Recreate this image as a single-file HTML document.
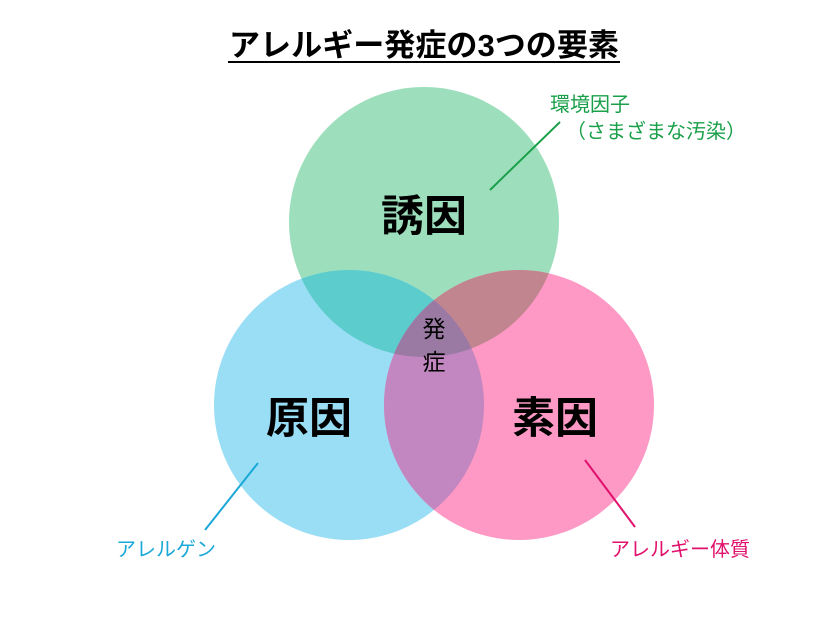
<!DOCTYPE html>
<html><head><meta charset="utf-8"><style>
body{margin:0;background:#fff;width:840px;height:639px;overflow:hidden}
svg text{font-family:"Liberation Sans","Noto Sans CJK JP",sans-serif}
</style></head><body>
<svg width="840" height="639" viewBox="0 0 840 639">
<defs>
<clipPath id="cg"><circle cx="424" cy="222" r="135"/></clipPath>
<clipPath id="cb"><circle cx="349" cy="405" r="135"/></clipPath>
<clipPath id="cgb" clip-path="url(#cg)"><circle cx="349" cy="405" r="135"/></clipPath>
</defs>
<text x="424" y="56" font-size="31" font-weight="bold" text-anchor="middle" fill="#000" textLength="390" lengthAdjust="spacingAndGlyphs">アレルギー発症の3つの要素</text>
<line x1="228" y1="62" x2="620" y2="62" stroke="#000" stroke-width="2"/>
<circle cx="424" cy="222" r="135" fill="#9ddfbc"/>
<circle cx="349" cy="405" r="135" fill="#99def5"/>
<circle cx="519" cy="405" r="135" fill="#fd99c4"/>
<circle cx="349" cy="405" r="135" fill="#5ccccc" clip-path="url(#cg)"/>
<circle cx="519" cy="405" r="135" fill="#c0858f" clip-path="url(#cg)"/>
<circle cx="519" cy="405" r="135" fill="#c286c0" clip-path="url(#cb)"/>
<circle cx="519" cy="405" r="135" fill="#9a7aa3" clip-path="url(#cgb)"/>
<text x="424" y="231" font-size="43" font-weight="bold" text-anchor="middle">誘因</text>
<text x="309" y="433" font-size="43" font-weight="bold" text-anchor="middle">原因</text>
<text x="555" y="433" font-size="43" font-weight="bold" text-anchor="middle">素因</text>
<text x="434" y="337" font-size="23" text-anchor="middle">発</text>
<text x="434" y="370" font-size="23" text-anchor="middle">症</text>
<line x1="490" y1="190" x2="560" y2="122" stroke="#1aa04a" stroke-width="2"/>
<text x="590" y="111" font-size="20" text-anchor="middle" fill="#1aa04a">環境因子</text>
<text x="656" y="138" font-size="20" text-anchor="middle" fill="#1aa04a">（さまざまな汚染）</text>
<line x1="258" y1="463" x2="205" y2="530" stroke="#1aa8d8" stroke-width="2"/>
<text x="166" y="556" font-size="20" text-anchor="middle" fill="#1aa8d8">アレルゲン</text>
<line x1="585" y1="460" x2="635" y2="527" stroke="#e0106c" stroke-width="2"/>
<text x="680" y="556" font-size="20" text-anchor="middle" fill="#e0106c">アレルギー体質</text>
</svg>
</body></html>
